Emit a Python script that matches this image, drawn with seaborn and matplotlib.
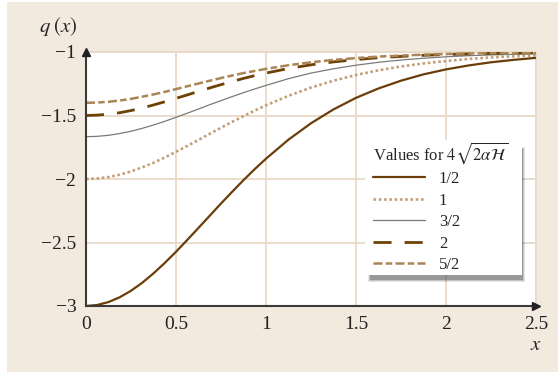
import matplotlib
matplotlib.use("Agg")
import matplotlib.pyplot as plt
from matplotlib.patches import Rectangle
from matplotlib.ticker import MultipleLocator, FixedLocator
import pandas as pd
import seaborn as sns

# Sample positions along x (denser where the curves bend most)
x_vals = [0.0, 0.0625, 0.125, 0.1875, 0.25, 0.3125, 0.375, 0.4375, 0.5, 0.5625,
          0.625, 0.6875, 0.75, 0.8125, 0.875, 0.9375, 1.0, 1.125, 1.25, 1.375,
          1.5, 1.625, 1.75, 1.875, 2.0, 2.125, 2.25, 2.375, 2.5]

# q(x) for each parameter value
q_half = [-3.000, -2.992, -2.969, -2.931, -2.880, -2.817, -2.743, -2.661, -2.573,
          -2.480, -2.385, -2.289, -2.193, -2.100, -2.009, -1.922, -1.840, -1.690,
          -1.561, -1.452, -1.361, -1.287, -1.226, -1.176, -1.137, -1.106, -1.081,
          -1.062, -1.046]
q_one = [-2.000, -1.996, -1.985, -1.966, -1.940, -1.908, -1.872, -1.831, -1.786,
         -1.740, -1.692, -1.644, -1.597, -1.550, -1.505, -1.461, -1.420, -1.345,
         -1.280, -1.226, -1.181, -1.144, -1.114, -1.090, -1.071, -1.055, -1.043,
         -1.034, -1.027]
q_three_half = [-1.667, -1.664, -1.656, -1.642, -1.624, -1.601, -1.575, -1.546,
                -1.514, -1.482, -1.449, -1.415, -1.383, -1.351, -1.320, -1.291,
                -1.263, -1.210, -1.166, -1.132, -1.104, -1.081, -1.063, -1.049,
                -1.038, -1.029, -1.023, -1.018, -1.014]
q_two = [-1.500, -1.497, -1.490, -1.478, -1.461, -1.441, -1.417, -1.392, -1.365,
         -1.338, -1.310, -1.283, -1.257, -1.232, -1.208, -1.186, -1.166, -1.130,
         -1.101, -1.078, -1.060, -1.045, -1.035, -1.026, -1.020, -1.015, -1.011,
         -1.008, -1.006]
q_five_half = [-1.400, -1.398, -1.392, -1.382, -1.369, -1.352, -1.334, -1.314,
               -1.292, -1.270, -1.248, -1.226, -1.205, -1.185, -1.166, -1.149,
               -1.133, -1.104, -1.081, -1.062, -1.048, -1.036, -1.028, -1.021,
               -1.016, -1.012, -1.009, -1.007, -1.005]

series_labels = ["1/2", "1", "3/2", "2", "5/2"]
series_values = [q_half, q_one, q_three_half, q_two, q_five_half]

x_ticks = [0, 0.5, 1, 1.5, 2, 2.5]
x_tick_labels = ["0", "0.5", "1", "1.5", "2", "2.5"]
y_ticks = [-3, -2.5, -2, -1.5, -1]
y_tick_labels = ["\u22123", "\u22122.5", "\u22122", "\u22121.5", "\u22121"]

frames = []
for lab, vals in zip(series_labels, series_values):
    frames.append(pd.DataFrame({"x": x_vals, "q": vals, "k": lab}))
df = pd.concat(frames, ignore_index=True)

styles = {
    "1/2": dict(color="#6a3d0a", lw=1.6, ls="-"),
    "1": dict(color="#c4a07a", lw=1.9, ls=(0, (1.0, 1.0))),
    "3/2": dict(color="#7a7a7a", lw=0.9, ls="-"),
    "2": dict(color="#6e4105", lw=2.0, ls=(0, (6.5, 4.7))),
    "5/2": dict(color="#aa8555", lw=1.8, ls=(0, (3.6, 1.3, 2.6, 1.3))),
}

sns.set_style("white")
plt.rcParams["font.family"] = ["Liberation Serif", "DejaVu Serif"]
plt.rcParams["mathtext.fontset"] = "stix"

W, H = 558, 373
beige = "#f2e9df"
grid_c = "#e9dac8"
axis_c = "#3a3a3a"

fig = plt.figure(figsize=(W / 100, H / 100), dpi=100, facecolor="white")
fig.patches.append(Rectangle((7 / W, 1 / H), 1 - 7 / W, 370 / H,
                             transform=fig.transFigure, facecolor=beige,
                             edgecolor="none", zorder=-10))
ax = fig.add_axes([86 / W, 1 - 306 / H, 450 / W, 254 / H])
ax.set_facecolor("white")

for lab in series_labels:
    st = styles[lab]
    sns.lineplot(data=df[df["k"] == lab], x="x", y="q", ax=ax, color=st["color"],
                 linewidth=st["lw"], linestyle=st["ls"], label=lab, zorder=3)

ax.set_xlim(0, 2.5)
ax.set_ylim(-3, -1)
ax.set_xlabel("")
ax.set_ylabel("")

ax.xaxis.set_major_locator(FixedLocator(x_ticks))
ax.set_xticklabels(x_tick_labels)
ax.yaxis.set_major_locator(FixedLocator(y_ticks))
ax.set_yticklabels(y_tick_labels)
ax.xaxis.set_minor_locator(MultipleLocator(0.1))
ax.yaxis.set_minor_locator(MultipleLocator(0.1))
ax.tick_params(which="major", length=0, labelsize=14, colors="#222222")
ax.tick_params(axis="x", which="major", pad=7)
ax.tick_params(axis="y", which="major", pad=7)
ax.tick_params(which="minor", direction="in", length=5, width=1.0, color=grid_c)

ax.grid(True, which="major", color=grid_c, lw=1.3, zorder=0)
ax.set_axisbelow(True)

for side in ["top", "right"]:
    ax.spines[side].set_color(grid_c)
    ax.spines[side].set_linewidth(1.3)
for side in ["left", "bottom"]:
    ax.spines[side].set_color(axis_c)
    ax.spines[side].set_linewidth(1.5)
    ax.spines[side].set_zorder(4)

# arrow heads on the axes
ax.plot(1, 0, ">", color="#222222", ms=6, transform=ax.transAxes, clip_on=False, zorder=5)
ax.plot(0, 1, "^", color="#222222", ms=6, transform=ax.transAxes, clip_on=False, zorder=5)

fig.text(58 / W, 1 - 27 / H, r"$q\;(x)$", fontsize=15, ha="center", va="center")
fig.text(536 / W, 1 - 346 / H, r"$x$", fontsize=15, ha="center", va="center")

# legend panel: white box with a soft drop shadow
bx0, by0, bx1, by1 = 365, 140, 522, 275
for grow, alpha in [(2.5, 0.10), (1.5, 0.14), (0.5, 0.22)]:
    ax.add_patch(Rectangle(((bx0 + 5 - grow) / W, 1 - (by1 + 4 + grow) / H),
                           (bx1 - bx0 - 5 + 2 * grow) / W, (by1 - by0 - 5 + 2 * grow) / H,
                           transform=fig.transFigure, facecolor="black", alpha=alpha,
                           edgecolor="none", clip_on=False, zorder=8))
ax.add_patch(Rectangle((bx0 / W, 1 - by1 / H), (bx1 - bx0) / W, (by1 - by0) / H,
                       transform=fig.transFigure, facecolor="white",
                       edgecolor="none", clip_on=False, zorder=9))

leg = ax.legend(loc="upper left", bbox_to_anchor=(373 / W, 1 - 140 / H),
                bbox_transform=fig.transFigure, borderaxespad=0.0,
                title=r"Values for $4\sqrt{2\alpha\mathcal{H}}$", fontsize=12,
                title_fontsize=12, frameon=False,
                handlelength=3.1, handletextpad=0.85, labelspacing=0.33,
                borderpad=0.0, alignment="left")
leg.set_zorder(10)

fig.savefig("out.png", dpi=100, facecolor="white")
